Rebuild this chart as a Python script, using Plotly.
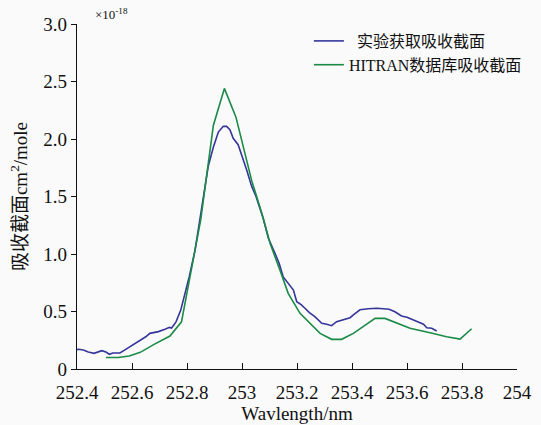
import plotly.graph_objects as go

# Wavelength (nm) and cross-section (×1e-18 cm^2/molecule)
exp_x = [252.40, 252.405, 252.423, 252.441, 252.462, 252.475, 252.49, 252.505, 252.518, 252.53,
         252.556, 252.57, 252.587, 252.60, 252.617, 252.635, 252.65, 252.665, 252.68, 252.696,
         252.72, 252.736, 252.744, 252.76, 252.777, 252.793, 252.808, 252.829, 252.845, 252.86,
         252.877, 252.896, 252.914, 252.932, 252.944, 252.956, 252.968, 252.986, 252.999, 253.017,
         253.035, 253.051, 253.077, 253.096, 253.12, 253.135, 253.15, 253.17, 253.187, 253.199,
         253.215, 253.229, 253.245, 253.265, 253.29, 253.308, 253.326, 253.344, 253.375, 253.393,
         253.405, 253.429, 253.459, 253.49, 253.514, 253.535, 253.556, 253.58, 253.60, 253.617,
         253.647, 253.66, 253.672, 253.69, 253.708]
exp_y = [0.17, 0.171, 0.165, 0.148, 0.136, 0.145, 0.159, 0.148, 0.128, 0.139,
         0.139, 0.16, 0.185, 0.21, 0.235, 0.258, 0.28, 0.31, 0.315, 0.325,
         0.345, 0.362, 0.356, 0.41, 0.51, 0.658, 0.80, 1.03, 1.27, 1.50,
         1.76, 1.93, 2.06, 2.11, 2.11, 2.08, 2.006, 1.95, 1.86, 1.73,
         1.59, 1.50, 1.31, 1.137, 1.006, 0.92, 0.80, 0.74, 0.687, 0.585,
         0.56, 0.528, 0.49, 0.455, 0.397, 0.389, 0.377, 0.411, 0.432, 0.446,
         0.47, 0.515, 0.524, 0.528, 0.524, 0.52, 0.498, 0.461, 0.45, 0.432,
         0.397, 0.39, 0.359, 0.354, 0.33]

hit_x = [252.505, 252.55, 252.59, 252.63, 252.677, 252.738, 252.78, 252.83, 252.85, 252.896,
         252.936, 252.978, 253.035, 253.072, 253.102, 253.138, 253.168, 253.211, 253.284, 253.326,
         253.362, 253.405, 253.484, 253.52, 253.563, 253.611, 253.684, 253.744, 253.793, 253.835]
hit_y = [0.10, 0.10, 0.113, 0.145, 0.21, 0.287, 0.41, 1.03, 1.30, 2.12,
         2.44, 2.19, 1.64, 1.354, 1.093, 0.86, 0.658, 0.484, 0.31, 0.258,
         0.258, 0.31, 0.44, 0.44, 0.397, 0.354, 0.316, 0.281, 0.26, 0.35]

x_ticks = [252.4, 252.6, 252.8, 253.0, 253.2, 253.4, 253.6, 253.8, 254.0]
x_labels = ["252.4", "252.6", "252.8", "253", "253.2", "253.4", "253.6", "253.8", "254"]
y_ticks = [0, 0.5, 1.0, 1.5, 2.0, 2.5, 3.0]
y_labels = ["0", "0.5", "1.0", "1.5", "2.0", "2.5", "3.0"]

names = ["  实验获取吸收截面", "HITRAN数据库吸收截面"]
FONT = "'Liberation Serif', 'Times New Roman', 'Noto Sans CJK SC', serif"

fig = go.Figure()
fig.add_trace(go.Scatter(x=exp_x, y=exp_y, mode="lines", name=names[0],
                         line=dict(color="#35359c", width=1.6)))
fig.add_trace(go.Scatter(x=hit_x, y=hit_y, mode="lines", name=names[1],
                         line=dict(color="#1b8a47", width=1.6)))

fig.update_layout(
    width=541, height=425,
    margin=dict(l=77, r=24, t=24, b=56),
    paper_bgcolor="#fafafa", plot_bgcolor="#fafafa",
    font=dict(family=FONT, color="#111111", size=19),
    showlegend=True,
    legend=dict(x=0.527, y=1.0, xanchor="left", yanchor="top",
                bgcolor="rgba(0,0,0,0)", font=dict(size=16, family=FONT),
                tracegroupgap=0),
    xaxis=dict(range=[252.4, 254.0], tickvals=x_ticks, ticktext=x_labels,
               tickfont=dict(family=FONT, size=19, color="#111111"),
               showline=True, linecolor="#111111", linewidth=1.2,
               ticks="inside", ticklen=6, tickcolor="#111111", tickwidth=1.2,
               ticklabelstandoff=6, automargin=False,
               showgrid=False, zeroline=False,
               title=dict(text="Wavlength/nm", font=dict(size=19, family=FONT), standoff=0)),
    yaxis=dict(range=[0, 3.0], tickvals=y_ticks, ticktext=y_labels,
               tickfont=dict(family=FONT, size=19, color="#111111"),
               showline=True, linecolor="#111111", linewidth=1.2,
               ticks="outside", ticklen=5, tickcolor="#111111", tickwidth=1.2,
               showgrid=False, zeroline=False, automargin=False,
               title=dict(text="吸收截面cm<sup>2</sup>/mole", font=dict(size=19, family=FONT), standoff=10)),
    annotations=[dict(text="×10<sup>-18</sup>", xref="paper", yref="paper",
                      x=0.036, y=1.0, xanchor="left", yanchor="bottom",
                      showarrow=False, font=dict(size=13, family=FONT))],
)

fig.write_html("out.html")
